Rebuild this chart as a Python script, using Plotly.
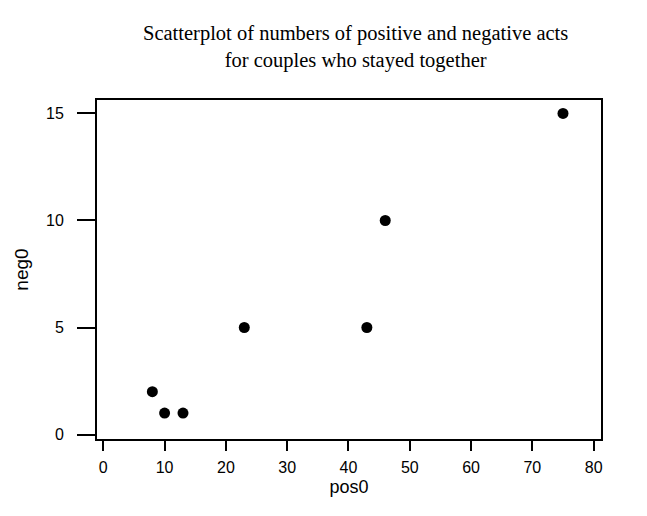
import plotly.graph_objects as go

pos0 = [8, 10, 13, 23, 43, 46, 75]
neg0 = [2, 1, 1, 5, 5, 10, 15]
x_ticks = [0, 10, 20, 30, 40, 50, 60, 70, 80]
y_ticks = [0, 5, 10, 15]

SANS = "Liberation Sans, Arial, sans-serif"
SERIF = "Liberation Serif, Times New Roman, serif"

fig = go.Figure()
fig.add_trace(go.Scatter(
    x=pos0, y=neg0, mode="markers",
    marker=dict(color="black", size=11, line=dict(width=0)),
    showlegend=False,
))

axis_common = dict(
    showline=True, linecolor="black", linewidth=2, mirror=True,
    ticks="outside", tickcolor="black", tickwidth=2,
    showgrid=False, zeroline=False,
    tickfont=dict(family=SANS, size=16, color="black"),
)

fig.update_layout(
    width=647, height=516,
    paper_bgcolor="white", plot_bgcolor="white",
    margin=dict(l=97, r=46, t=100, b=77),
    xaxis=dict(
        range=[-1.03, 81.2], tickvals=x_ticks, ticklen=10, ticklabelstandoff=3,
        title=dict(text="pos0", font=dict(family=SANS, size=18, color="black"), standoff=5),
        **axis_common,
    ),
    yaxis=dict(
        range=[-0.21, 15.63], tickvals=y_ticks, ticklen=18, ticklabelstandoff=10,
        title=dict(text="neg0", font=dict(family=SANS, size=19, color="black"), standoff=12),
        **axis_common,
    ),
    annotations=[dict(
        text="Scatterplot of numbers of positive and negative acts<br>for couples who stayed together",
        font=dict(family=SERIF, size=20.5, color="black"),
        xref="paper", yref="paper", x=(355 - 97) / (647 - 97 - 46), y=(439 - 47) / 339,
        xanchor="center", yanchor="middle", showarrow=False, align="center",
    )],
)

fig.write_html("out.html")
